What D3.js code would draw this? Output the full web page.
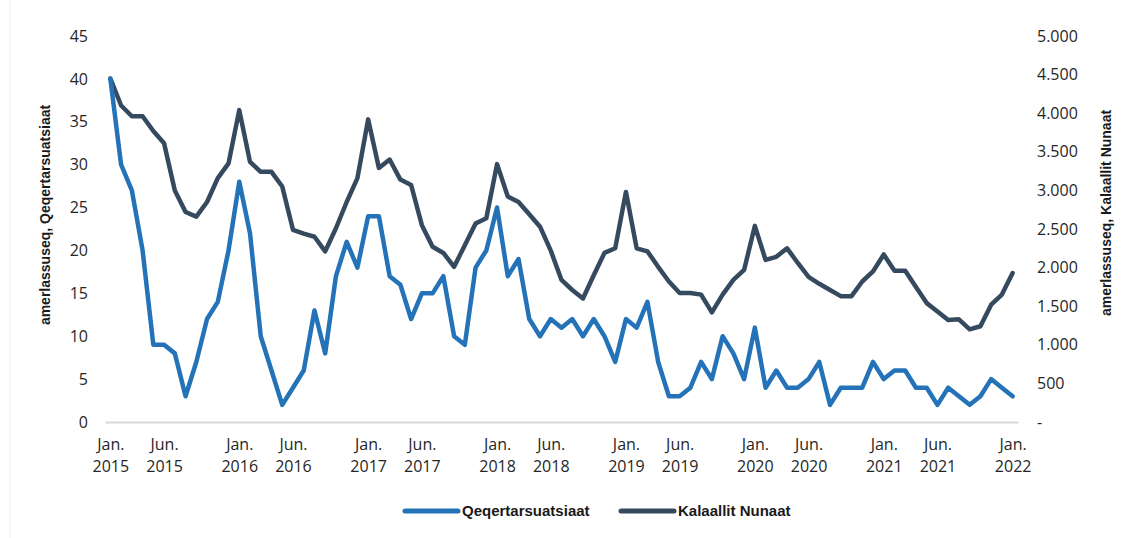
<!DOCTYPE html>
<html><head><meta charset="utf-8">
<script src="https://cdn.jsdelivr.net/npm/d3@7"></script>
<style>body{margin:0;background:#fff}svg{display:block}</style>
</head><body>
<svg id="c" width="1132" height="538"></svg>
<script>
// Monthly categories Jan 2015 .. Jan 2022
const categories = [];
for (let y = 2015; y <= 2022; y++) {
  for (let m = 1; m <= 12; m++) {
    if (y === 2022 && m > 1) break;
    categories.push(y + "-" + String(m).padStart(2, "0"));
  }
}

// Left axis series
const qeqertarsuatsiaat = [
  40,30,27,20,9,9,8,3,7,12,14,20,
  28,22,10,6,2,4,6,13,8,17,21,18,
  24,24,17,16,12,15,15,17,10,9,18,20,
  25,17,19,12,10,12,11,12,10,12,10,7,
  12,11,14,7,3,3,4,7,5,10,8,5,
  11,4,6,4,4,5,7,2,4,4,4,7,
  5,6,6,4,4,2,4,3,2,3,5,4,
  3
];

// Right axis series
const kalaallitNunaat = [
  4450,4100,3960,3960,3770,3610,3000,2720,2660,2850,3160,3350,
  4040,3370,3240,3240,3050,2490,2440,2400,2210,2510,2850,3160,
  3920,3290,3400,3140,3070,2550,2270,2190,2010,2290,2570,2640,
  3340,2920,2850,2690,2530,2220,1840,1710,1600,1900,2190,2250,
  2980,2250,2210,2010,1820,1670,1670,1650,1420,1650,1840,1970,
  2540,2100,2140,2250,2060,1880,1790,1710,1630,1630,1820,1950,
  2170,1960,1960,1750,1540,1430,1320,1330,1200,1240,1520,1650,
  1930
];

const xTicks = ["2015-01","2015-06","2016-01","2016-06","2017-01","2017-06","2018-01","2018-06",
  "2019-01","2019-06","2020-01","2020-06","2021-01","2021-06","2022-01"];
const xTickLabels = ["Jan. 2015","Jun. 2015","Jan. 2016","Jun. 2016","Jan. 2017","Jun. 2017","Jan. 2018","Jun. 2018",
  "Jan. 2019","Jun. 2019","Jan. 2020","Jun. 2020","Jan. 2021","Jun. 2021","Jan. 2022"];
const leftTicks = [0,5,10,15,20,25,30,35,40,45];
const rightTicks = [0,500,1000,1500,2000,2500,3000,3500,4000,4500,5000];
const seriesNames = ["Qeqertarsuatsiaat", "Kalaallit Nunaat"];
const leftTitle = "amerlassuseq, Qeqertarsuatsiaat";
const rightTitle = "amerlassuseq, Kalaallit Nunaat";

const BLUE = "#2473b8", DARK = "#35495f";
const tickFont = "'Open Sans', 'Noto Sans', sans-serif";
const boldFont = "'Liberation Sans', Arial, sans-serif";
const TICK_COLOR = "#262626";

const svg = d3.select("#c");

// faint left border as in the reference
svg.append("line").attr("x1", 10).attr("x2", 10).attr("y1", 0).attr("y2", 538)
  .attr("stroke", "#efefef").attr("stroke-width", 1);

const x = d3.scalePoint().domain(categories).range([105, 1018]).padding(0.5);
const yL = d3.scaleLinear().domain([0, 45]).range([422, 36]);
const yR = d3.scaleLinear().domain([0, 5000]).range([422, 36]);

// Left axis
const gl = svg.append("g").attr("transform", "translate(92,0)")
  .call(d3.axisLeft(yL).tickValues(leftTicks).tickSize(0).tickPadding(4));
gl.select(".domain").remove();
gl.selectAll("text").attr("font-family", tickFont).attr("font-size", 16).attr("fill", TICK_COLOR);

// Right axis
const fmtR = d => d === 0 ? "-" : d3.format(",")(d).replace(",", ".");
const gr = svg.append("g").attr("transform", "translate(1033,0)")
  .call(d3.axisRight(yR).tickValues(rightTicks).tickSize(0).tickPadding(4).tickFormat(fmtR));
gr.select(".domain").remove();
gr.selectAll("text").attr("font-family", tickFont).attr("font-size", 16).attr("fill", TICK_COLOR);

// Bottom axis
const gb = svg.append("g").attr("transform", "translate(0,422)")
  .call(d3.axisBottom(x).tickValues(xTicks).tickSize(0));
gb.select(".domain").attr("stroke", "#d9d9d9").attr("stroke-width", 2);
gb.selectAll("text").each(function(d) {
  const lbl = xTickLabels[xTicks.indexOf(d)].split(" ");
  const t = d3.select(this).text(null).attr("y", 0).attr("dy", null)
    .attr("font-family", tickFont).attr("font-size", 16).attr("fill", TICK_COLOR);
  t.append("tspan").attr("x", 0).attr("y", 28).text(lbl[0]);
  t.append("tspan").attr("x", 0).attr("y", 50).text(lbl[1]);
});

// Axis titles
svg.append("text").attr("transform", "translate(45,215) rotate(-90)")
  .attr("text-anchor", "middle").attr("dy", "0.35em")
  .attr("font-family", boldFont).attr("font-weight", "bold").attr("font-size", 14).attr("fill", "#1a1a1a")
  .text(leftTitle);
svg.append("text").attr("transform", "translate(1106,213) rotate(-90)")
  .attr("text-anchor", "middle").attr("dy", "0.35em")
  .attr("font-family", boldFont).attr("font-weight", "bold").attr("font-size", 14).attr("fill", "#1a1a1a")
  .text(rightTitle);

// Lines
const lineL = d3.line().x((d, i) => x(categories[i])).y(d => yL(d));
const lineR = d3.line().x((d, i) => x(categories[i])).y(d => yR(d));

svg.append("path").datum(kalaallitNunaat).attr("d", lineR)
  .attr("fill", "none").attr("stroke", DARK).attr("stroke-width", 4.5)
  .attr("stroke-linejoin", "round").attr("stroke-linecap", "round");
svg.append("path").datum(qeqertarsuatsiaat).attr("d", lineL)
  .attr("fill", "none").attr("stroke", BLUE).attr("stroke-width", 4.5)
  .attr("stroke-linejoin", "round").attr("stroke-linecap", "round");

// Legend
const legend = [
  {name: seriesNames[0], color: BLUE, x0: 405},
  {name: seriesNames[1], color: DARK, x0: 621}
];
const lg = svg.append("g");
legend.forEach(l => {
  lg.append("line").attr("x1", l.x0).attr("x2", l.x0 + 53).attr("y1", 511).attr("y2", 511)
    .attr("stroke", l.color).attr("stroke-width", 5).attr("stroke-linecap", "round");
  lg.append("text").attr("x", l.x0 + 57).attr("y", 511).attr("dy", "0.35em")
    .attr("font-family", boldFont).attr("font-weight", "bold").attr("font-size", 15).attr("fill", "#1a1a1a")
    .text(l.name);
});
</script>
</body></html>
